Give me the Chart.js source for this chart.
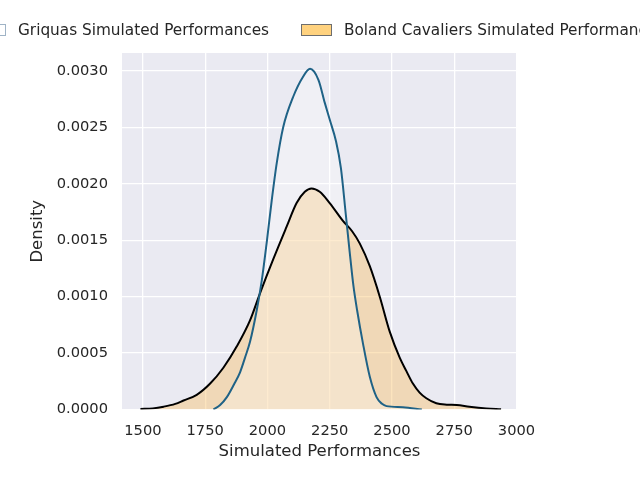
<!DOCTYPE html>
<html>
<head>
<meta charset="utf-8">
<script src="https://cdn.jsdelivr.net/npm/chart.js@4.4.1/dist/chart.umd.min.js"></script>
<style>
  html, body { margin: 0; padding: 0; background: #fff; overflow: hidden; }
  #wrap { position: relative; width: 640px; height: 480px; overflow: hidden; }
  #legend { position: absolute; top: 0; left: 0; width: 640px; height: 50px;
            font-family: "DejaVu Sans", sans-serif; font-size: 15.3px; color: #262626; }
  .item { position: absolute; top: 21px; white-space: nowrap; display: flex; align-items: center; }
  .box { width: 29px; height: 10px; margin-right: 12px; box-sizing: content-box; }
</style>
</head>
<body>
<div id="wrap">
  <canvas id="kdeChart" width="640" height="480"></canvas>
  <div id="legend"></div>
</div>
<script>
// series
const seriesNames = ['Griquas Simulated Performances', 'Boland Cavaliers Simulated Performances'];

const griquasX = [1783, 1810, 1837, 1865, 1890, 1910, 1930, 1957, 1977, 1997, 2017, 2037, 2063, 2103,
                  2143, 2171, 2205, 2230, 2250, 2275, 2295, 2315, 2330, 2345, 2360, 2384, 2411, 2438,
                  2460, 2478, 2544, 2620];
const griquasY = [0, 0.00004, 0.00011, 0.00022, 0.00033, 0.00046, 0.0006, 0.00088, 0.00114, 0.00148,
                  0.00185, 0.00218, 0.0025, 0.00277, 0.00295, 0.00302, 0.00292, 0.00272, 0.00257,
                  0.00238, 0.00214, 0.00172, 0.0014, 0.0011, 0.00088, 0.00058, 0.00029, 0.00011,
                  0.00005, 0.00003, 0.00002, 0];

const bolandX = [1490, 1540, 1583, 1630, 1663, 1716, 1770, 1823, 1877, 1930, 1970, 2023, 2077, 2117,
                 2150, 2177, 2210, 2250, 2304, 2340, 2371, 2411, 2451, 2491, 2531, 2558, 2584, 2611,
                 2638, 2678, 2720, 2760, 2811, 2878, 2938];
const bolandY = [0.000005, 0.00001, 0.000025, 0.00005, 0.00008, 0.00013, 0.00023, 0.00037, 0.00056,
                 0.00079, 0.00103, 0.00133, 0.00162, 0.00183, 0.00193, 0.00196, 0.00193, 0.00183,
                 0.00167, 0.00158, 0.00147, 0.00127, 0.001, 0.00069, 0.00046, 0.00034, 0.00023,
                 0.00015, 0.0001, 0.000055, 0.000043, 0.00004, 0.000025, 0.00001, 0.000002];

const xTicks = [1500, 1750, 2000, 2250, 2500, 2750, 3000];
const yTicks = [0, 0.0005, 0.001, 0.0015, 0.002, 0.0025, 0.003];

const toPoints = (xs, ys) => xs.map((x, i) => ({ x: x, y: ys[i] }));

const font = { family: 'DejaVu Sans', size: 14.67 };
const ink = '#262626';

// grey panel behind the grid, seaborn darkgrid style
const panelBg = {
  id: 'panelBg',
  beforeDraw(chart) {
    const a = chart.chartArea;
    const c = chart.ctx;
    c.save();
    c.fillStyle = '#eaeaf2';
    c.fillRect(a.left, a.top, a.right - a.left, a.bottom - a.top);
    c.restore();
  }
};

const ctx = document.getElementById('kdeChart').getContext('2d');
const kdeChart = new Chart(ctx, {
  type: 'line',
  data: {
    datasets: [{
      label: seriesNames[0],
      data: toPoints(griquasX, griquasY),
      borderColor: '#1f6286',
      borderWidth: 2,
      backgroundColor: 'rgba(255,255,255,0.28)',
      fill: 'origin',
      pointRadius: 0,
      cubicInterpolationMode: 'monotone'
    }, {
      label: seriesNames[1],
      data: toPoints(bolandX, bolandY),
      borderColor: '#000000',
      borderWidth: 2,
      backgroundColor: 'rgba(248,195,110,0.45)',
      fill: 'origin',
      pointRadius: 0,
      cubicInterpolationMode: 'monotone'
    }]
  },
  options: {
    responsive: false,
    animation: false,
    layout: { padding: { top: 53, right: 123, left: 0, bottom: 0 } },
    plugins: {
      legend: { display: false },
      tooltip: { enabled: false },
      filler: { drawTime: 'beforeDatasetsDraw' }
    },
    scales: {
      x: {
        type: 'linear',
        min: 1416,
        max: 3002,
        afterBuildTicks: s => { s.ticks = xTicks.map(v => ({ value: v })); },
        afterFit: s => { s.height = 70.5; },
        grid: { color: '#ffffff', lineWidth: 1.3, drawTicks: false },
        border: { display: false },
        ticks: { color: ink, font: font, padding: 13, maxRotation: 0, callback: v => String(v) },
        title: { display: true, text: 'Simulated Performances', color: ink,
                 font: { family: 'DejaVu Sans', size: 16.5 }, padding: { top: 0, bottom: 18 } }
      },
      y: {
        min: 0,
        max: 0.00316,
        afterBuildTicks: s => { s.ticks = yTicks.map(v => ({ value: v })); },
        afterFit: s => { s.width = 122; },
        grid: { color: '#ffffff', lineWidth: 1.3, drawTicks: false },
        border: { display: false },
        ticks: { color: ink, font: font, padding: 14, callback: v => v.toFixed(4) },
        title: { display: true, text: 'Density', color: ink,
                 font: { family: 'DejaVu Sans', size: 16.5 }, padding: { top: 28, bottom: 0 } }
      }
    }
  },
  plugins: [panelBg]
});

// html legend, centred on the axes like the original and clipped at both sides
const legendItems = [
  { left: -25, fill: 'rgba(255,255,255,0.6)', edge: '#9fb3c6' },
  { left: 301, fill: '#ffd27f', edge: '#6e6e6e' }
];
const legendEl = document.getElementById('legend');
seriesNames.forEach((name, i) => {
  const it = legendItems[i];
  const d = document.createElement('div');
  d.className = 'item';
  d.style.left = it.left + 'px';
  const b = document.createElement('span');
  b.className = 'box';
  b.style.background = it.fill;
  b.style.border = '1px solid ' + it.edge;
  const t = document.createElement('span');
  t.textContent = name;
  d.appendChild(b);
  d.appendChild(t);
  legendEl.appendChild(d);
});
</script>
</body>
</html>
